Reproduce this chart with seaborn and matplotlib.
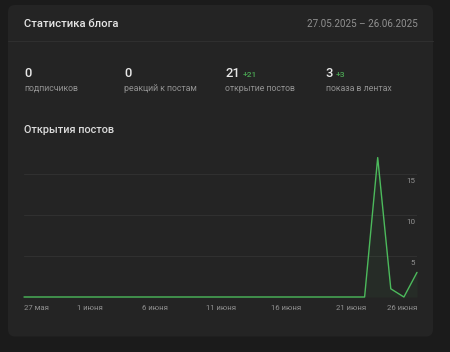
import matplotlib
matplotlib.use('Agg')
import matplotlib.pyplot as plt
from matplotlib.patches import FancyBboxPatch
import pandas as pd
import seaborn as sns

# Data
dates = pd.date_range('2025-05-27', '2025-06-26', freq='D')
opens = [0, 0, 0, 0, 0, 0, 0, 0, 0, 0,
         0, 0, 0, 0, 0, 0, 0, 0, 0, 0,
         0, 0, 0, 0, 0, 0, 0, 17, 1, 0, 3]
tick_dates = ['2025-05-27', '2025-06-01', '2025-06-06', '2025-06-11',
              '2025-06-16', '2025-06-21', '2025-06-26']
tick_labels = ['27 мая', '1 июня', '6 июня', '11 июня', '16 июня', '21 июня', '26 июня']
y_ticks = [5, 10, 15]

stat_values = ['0', '0', '21', '3']
stat_deltas = ['', '', '+21', '+3']
stat_labels = ['подписчиков', 'реакций к постам', 'открытие постов', 'показа в лентах']

title = 'Статистика блога'
period = '27.05.2025 – 26.06.2025'
chart_title = 'Открытия постов'

sns.set_theme(style='dark')
plt.rcParams['font.family'] = ['Roboto', 'DejaVu Sans']

OUTER = '#1b1b1b'
CARD = '#242424'
GREEN = '#4cba5c'
GREY = '#919191'

W, H = 450, 352
fig = plt.figure(figsize=(W / 100, H / 100), dpi=100, facecolor=OUTER)

# background layer in pixel coordinates
bg = fig.add_axes([0, 0, 1, 1])
bg.set_xlim(0, W)
bg.set_ylim(H, 0)
bg.axis('off')
bg.add_patch(FancyBboxPatch((8, 5), 425, 331.5, boxstyle='round,pad=0,rounding_size=7',
                            fc=CARD, ec='none'))
bg.plot([8, 433], [41, 41], color='#2f2f2f', lw=0.8)

bg.text(24, 27.3, title, color='#e6e6e6', fontsize=8.1, fontweight='medium',
        va='baseline', ha='left')
bg.text(417.3, 27.3, period, color=GREY, fontsize=7.1, va='baseline', ha='right')

col_x = [24, 124.5, 225, 325.5]
delta_x = [None, None, 242.7, 335.7]
for x, v, d, dx, lab in zip(col_x, stat_values, stat_deltas, delta_x, stat_labels):
    bg.text(x, 77, v, color='#e8e8e8', fontsize=9.4, fontweight='medium',
            va='baseline', ha='left')
    if d:
        bg.text(dx, 76.7, d, color='#4aa553', fontsize=6, fontweight='medium',
                va='baseline', ha='left')
    bg.text(x, 90.7, lab, color=GREY, fontsize=6.3, va='baseline', ha='left')

bg.text(24, 133.3, chart_title, color='#dcdcdc', fontsize=7.8, fontweight='medium',
        va='baseline', ha='left')

# chart axes: x 24..417, zero line at y=297, 8.2 px per unit
y0, ppu, ymax = 297, 8.2, 18
left, right = 24, 417
ax = fig.add_axes([left / W, 1 - y0 / H, (right - left) / W, ymax * ppu / H])
ax.set_facecolor('none')

df = pd.DataFrame({'date': dates, 'opens': opens})
sns.lineplot(data=df, x='date', y='opens', ax=ax, color=GREEN, lw=1.0, clip_on=False, zorder=3)
ax.fill_between(df['date'], df['opens'], 0, color=GREEN, alpha=0.06, lw=0, zorder=2)

ax.set_xlim(dates[0], dates[-1])
ax.set_ylim(0, ymax)
ax.set_xlabel('')
ax.set_ylabel('')

ax.set_yticks(y_ticks)
ax.set_yticklabels([])
ax.tick_params(axis='y', length=0)
ax.grid(axis='y', color='#303030', lw=0.8)
ax.grid(axis='x', visible=False)
for v in y_ticks:
    ax.annotate(str(v), xy=(1, v), xycoords=('axes fraction', 'data'),
                xytext=(-2, -4), textcoords='offset pixels',
                ha='right', va='top', color=GREY, fontsize=5.8)

ax.set_xticks(pd.to_datetime(tick_dates))
ax.set_xticklabels(tick_labels)
ax.tick_params(axis='x', colors=GREY, labelsize=5.6, length=3, width=0.6,
               direction='out', pad=3, color='#555555')
labels = ax.get_xticklabels()
labels[0].set_ha('left')
labels[-1].set_ha('right')

for s in ax.spines.values():
    s.set_visible(False)

fig.savefig('out.png', dpi=100, facecolor=OUTER)
